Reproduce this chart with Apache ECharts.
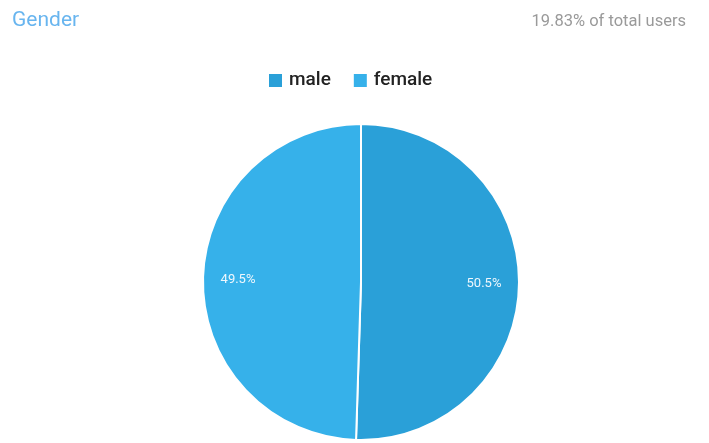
<!DOCTYPE html>
<html>
<head>
<meta charset="utf-8">
<script src="https://cdn.jsdelivr.net/npm/echarts@6/dist/echarts.min.js"></script>
<style>
  html, body { margin: 0; padding: 0; background: #ffffff; }
  #chart { width: 709px; height: 443px; }
</style>
</head>
<body>
<div id="chart"></div>
<script>
// Share of users by gender
const categories = ['male', 'female'];
const shares = [50.5, 49.5];
const colors = ['#2aa0d8', '#36b1ea'];
const titleText = 'Gender';
const coverageText = '19.83% of total users';

const pieData = categories.map((name, i) => ({
  name: name,
  value: shares[i],
  itemStyle: { color: colors[i] }
}));

const ringData = categories.map((name, i) => ({
  name: name,
  value: shares[i]
}));

const chart = echarts.init(document.getElementById('chart'), null, { renderer: 'canvas' });

chart.setOption({
  animation: false,
  backgroundColor: '#ffffff',
  textStyle: { fontFamily: 'Roboto, sans-serif' },
  title: [
    {
      text: titleText,
      left: 7,
      top: 5,
      padding: 5,
      textStyle: { color: '#68b5ef', fontSize: 21, fontWeight: 'normal', fontFamily: 'Roboto' }
    },
    {
      text: coverageText,
      right: 18,
      top: 8,
      padding: 5,
      textStyle: { color: '#9a9a9a', fontSize: 16.5, fontWeight: 'normal', fontFamily: 'Roboto' }
    }
  ],
  legend: {
    data: categories,
    left: 267,
    top: 71,
    padding: 0,
    icon: 'rect',
    itemWidth: 15,
    itemHeight: 15,
    itemGap: 21,
    textStyle: { color: '#222222', fontSize: 19, fontWeight: 500, fontFamily: 'Roboto', padding: [0, 0, 0, 1] }
  },
  series: [
    {
      // filled slices
      type: 'pie',
      center: [361, 282],
      radius: [0, 158],
      startAngle: 90,
      clockwise: true,
      silent: true,
      label: { show: false },
      labelLine: { show: false },
      itemStyle: { borderColor: '#ffffff', borderWidth: 2 },
      data: pieData
    },
    {
      // transparent ring that carries the percentage labels
      type: 'pie',
      center: [361, 282],
      radius: [92, 148],
      startAngle: 90,
      clockwise: true,
      silent: true,
      legendHoverLink: false,
      itemStyle: { color: 'rgba(0,0,0,0)', borderWidth: 0 },
      label: {
        show: true,
        position: 'inside',
        formatter: p => p.value.toFixed(1) + '%',
        color: '#eef7fd',
        fontSize: 13,
        fontFamily: 'Roboto'
      },
      labelLine: { show: false },
      data: ringData
    }
  ]
});
</script>
</body>
</html>
